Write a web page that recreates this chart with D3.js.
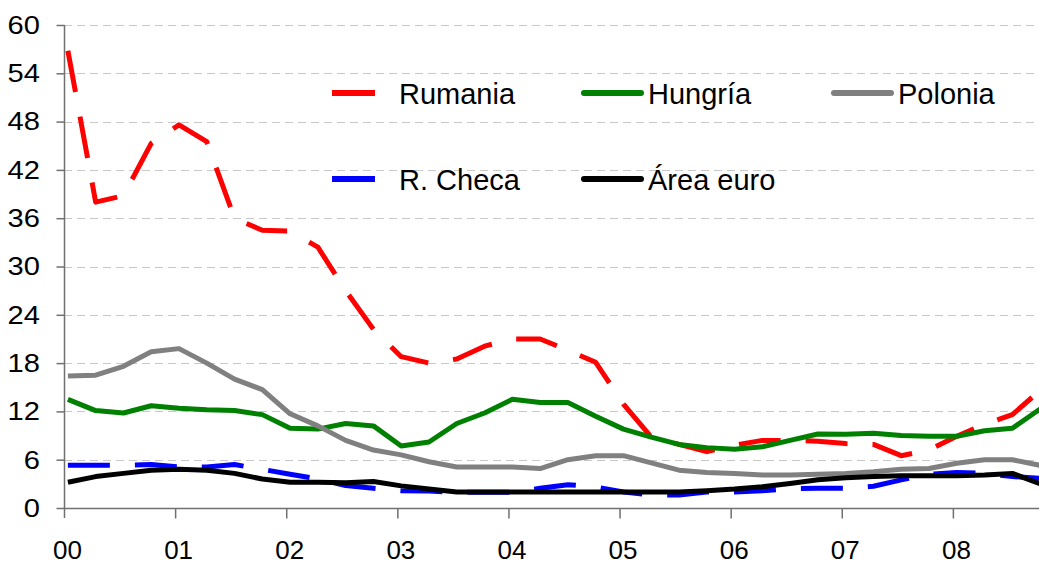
<!DOCTYPE html>
<html>
<head>
<meta charset="utf-8">
<script src="https://cdn.jsdelivr.net/npm/d3@7"></script>
<style>
  body { margin: 0; background: #fff; }
  text { font-family: "Liberation Sans", Arial, sans-serif; fill: #000; }
</style>
</head>
<body>
<div id="chart"></div>
<script>
var svgWidth = 1039;
var svgHeight = 565;

// year labels on the x axis
var years = ["00", "01", "02", "03", "04", "05", "06", "07", "08"];
var yTicks = [0, 6, 12, 18, 24, 30, 36, 42, 48, 54, 60];

// quarterly values, 2000 Q1 .. 2008 Q4
var rumania = [56.8, 38.0, 38.8, 45.3, 47.6, 45.5, 36.0, 34.5, 34.4, 32.4, 27.0, 22.2,
    18.8, 18.0, 18.5, 20.1, 21.0, 21.0, 19.6, 18.1, 12.9, 8.8, 7.9, 7.0,
    7.8, 8.4, 8.4, 8.3, 8.0, 7.9, 6.5, 7.2, 8.9, 10.4, 11.6, 14.6];
var hungria = [13.5, 12.1, 11.8, 12.7, 12.4, 12.2, 12.1, 11.6, 9.9, 9.8, 10.5, 10.2,
    7.7, 8.2, 10.5, 11.8, 13.5, 13.1, 13.1, 11.4, 9.8, 8.8, 7.9, 7.5,
    7.3, 7.6, 8.4, 9.2, 9.15, 9.3, 9.0, 8.9, 8.9, 9.6, 9.9, 12.3];
var polonia = [16.4, 16.5, 17.6, 19.4, 19.8, 18.0, 16.0, 14.7, 11.7, 10.2, 8.4, 7.2,
    6.6, 5.75, 5.1, 5.1, 5.1, 4.9, 6.0, 6.5, 6.5, 5.6, 4.7, 4.4,
    4.3, 4.1, 4.1, 4.2, 4.3, 4.5, 4.8, 4.9, 5.55, 6.0, 6.0, 5.3];
var checa = [5.3, 5.3, 5.3, 5.4, 5.1, 5.1, 5.4, 4.8, 4.2, 3.6, 2.8, 2.45,
    2.15, 2.1, 1.95, 1.95, 1.95, 2.45, 2.9, 2.6, 2.0, 1.6, 1.6, 2.0,
    2.0, 2.15, 2.4, 2.45, 2.45, 2.7, 3.5, 4.2, 4.4, 4.3, 3.9, 3.7];
var euro = [3.2, 3.9, 4.3, 4.7, 4.8, 4.7, 4.3, 3.6, 3.2, 3.2, 3.15, 3.3,
    2.75, 2.35, 2.0, 2.0, 2.0, 2.0, 2.0, 2.0, 2.0, 2.0, 2.0, 2.15,
    2.35, 2.65, 3.05, 3.5, 3.75, 3.9, 4.0, 4.0, 4.0, 4.1, 4.3, 3.0];

var seriesNames = ["Rumania", "Hungría", "Polonia", "R. Checa", "Área euro"];
var seriesData = [rumania, hungria, polonia, checa, euro];
var seriesColors = ["#ff0000", "#008000", "#808080", "#0000ff", "#000000"];
var seriesDashed = [true, false, false, true, false];

var margin = { top: 25, left: 64, right: 0, bottom: 57 };

var svg = d3.select("#chart")
    .append("svg")
    .attr("width", svgWidth)
    .attr("height", svgHeight);

// x in years from start of 2000
var xScale = d3.scaleLinear()
    .domain([0, 8.775])
    .range([margin.left, svgWidth - margin.right]);

var yScale = d3.scaleLinear()
    .domain([0, 60])
    .range([508, margin.top]);

// grid lines
svg.append("g")
    .selectAll("line")
    .data(yTicks.filter(d => d > 0))
    .enter()
    .append("line")
    .attr("x1", xScale(0))
    .attr("x2", svgWidth)
    .attr("y1", d => Math.round(yScale(d)) + 0.5)
    .attr("y2", d => Math.round(yScale(d)) + 0.5)
    .attr("stroke", "#c8c8c8")
    .attr("stroke-width", 1)
    .attr("stroke-dasharray", "8,5");

// y axis
var leftAxis = d3.axisLeft(yScale)
    .tickValues(yTicks)
    .tickSize(8)
    .tickPadding(14);

var yAxis = svg.append("g")
    .attr("transform", `translate(${xScale(0) + 0.5}, 0)`)
    .call(leftAxis);

yAxis.select(".domain").attr("stroke", "#707070").attr("stroke-width", 1.5)
    .attr("d", `M0,${yScale(60)}V${yScale(0) + 10}`);
yAxis.selectAll(".tick line").attr("stroke", "#707070").attr("stroke-width", 1.5);
yAxis.selectAll(".tick text")
    .attr("font-size", 26)
    .attr("font-family", "Liberation Sans, Arial, sans-serif")
    .attr("fill", "#000")
    .attr("transform", "scale(1.12,1)");

// x axis
var bottomAxis = d3.axisBottom(xScale)
    .tickValues(d3.range(years.length))
    .tickFormat(d => years[d])
    .tickSize(10)
    .tickPadding(22);

var xAxis = svg.append("g")
    .attr("transform", `translate(0, ${yScale(0) + 0.5})`)
    .call(bottomAxis);

xAxis.select(".domain").attr("stroke", "#707070").attr("stroke-width", 1.5)
    .attr("d", `M${xScale(0)},0H${svgWidth}`);
xAxis.selectAll(".tick line").attr("stroke", "#707070").attr("stroke-width", 1.5);
xAxis.selectAll(".tick").filter(d => d === 0).select("line").remove();
xAxis.selectAll(".tick text")
    .attr("font-size", 26)
    .attr("font-family", "Liberation Sans, Arial, sans-serif")
    .attr("fill", "#000")
    .attr("dx", 3);

// lines
var line = d3.line()
    .x((d, i) => xScale(0.035 + i * 0.25))
    .y(d => yScale(d))
    .curve(d3.curveLinear);

svg.append("defs").append("clipPath")
    .attr("id", "plotClip")
    .append("rect")
    .attr("x", xScale(0))
    .attr("y", 0)
    .attr("width", svgWidth - xScale(0))
    .attr("height", 520);

var linesGroup = svg.append("g").attr("clip-path", "url(#plotClip)");

seriesData.forEach(function(values, k) {
    linesGroup.append("path")
        .datum(values)
        .attr("d", line)
        .attr("fill", "none")
        .attr("stroke", seriesColors[k])
        .attr("stroke-width", 5)
        .attr("stroke-linejoin", "round")
        .attr("stroke-dasharray", seriesDashed[k] ? "42,25" : null);
});

// legend
var legendPos = [
    { x: 332, y: 93 },
    { x: 582, y: 93 },
    { x: 832, y: 93 },
    { x: 332, y: 179 },
    { x: 582, y: 179 }
];

var legend = svg.append("g");

seriesNames.forEach(function(name, k) {
    var p = legendPos[k];
    var g = legend.append("g").attr("transform", `translate(${p.x}, ${p.y})`);
    if (seriesDashed[k]) {
        g.append("line")
            .attr("x1", 0).attr("x2", 43)
            .attr("y1", 0).attr("y2", 0)
            .attr("stroke", seriesColors[k])
            .attr("stroke-width", 6);
        g.append("text")
            .attr("x", 67)
            .attr("y", 11)
            .attr("font-size", 29)
            .text(name);
    } else {
        g.append("line")
            .attr("x1", 2).attr("x2", 59)
            .attr("y1", 0).attr("y2", 0)
            .attr("stroke", seriesColors[k])
            .attr("stroke-width", 6)
            .attr("stroke-linecap", "round");
        g.append("text")
            .attr("x", 66)
            .attr("y", 11)
            .attr("font-size", 29)
            .text(name);
    }
});
</script>
</body>
</html>
